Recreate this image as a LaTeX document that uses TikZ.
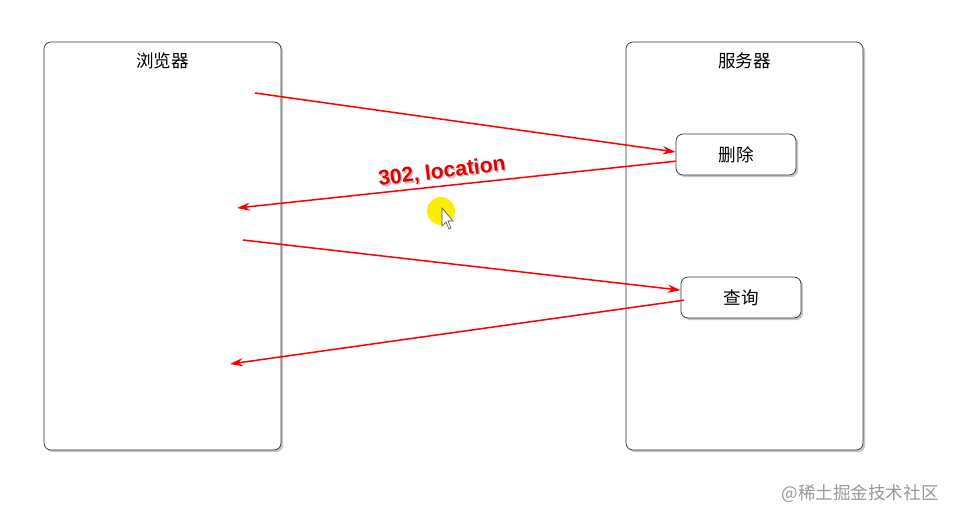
\documentclass[tikz,border=0pt]{standalone}
\usepackage{fontspec}
\setmainfont{Liberation Sans}
\newfontfamily\cjk{Noto Sans CJK SC}
\usetikzlibrary{positioning,shadows,arrows.meta}

\begin{document}
\begin{tikzpicture}[x=0.03cm,y=-0.03cm,
        side/.style={draw=black!80,line width=0.6pt,rounded corners=6pt,fill=white,
          drop shadow={shadow xshift=1.8pt,shadow yshift=-1.8pt,opacity=0.45},
          minimum width=7.11cm,minimum height=12.24cm},
        op/.style={side,minimum width=3.6cm,minimum height=1.23cm,inner sep=0pt,
          font=\cjk\fontsize{15}{17}\selectfont},
        title/.style={font=\cjk\fontsize{15}{17}\selectfont}, % box headings
        msg/.style={draw=red,line width=1.3pt,-{Stealth[length=11pt,width=7pt]}}]
        \useasboundingbox (0,0) rectangle (957,521);
        % the two sides
        \node[side] (browser) at (162.5,246) {};
        \node[side] (server) at (744.5,246) {};
        \node[title,below=0.2cm of browser.north] (browsertitle) {浏览器};
        \node[title,below=0.2cm of server.north] (servertitle) {服务器};
        % handlers on the server
        \node[op] (del) at (736,154.5) {删除};
        \node[op] (query) at (741,297.5) {查询};
        % free ends on the browser side
        \coordinate (req1) at (255,93);
        \coordinate (back1) at (237,208);
        \coordinate (req2) at (243,240);
        \coordinate (back2) at (230,364);
        \draw[msg] (req1) -- ([yshift=0.075cm]del.west);
        \draw[msg] ([yshift=-0.2cm]del.west) -- (back1);
        \draw[msg] (req2) -- ([yshift=0.22cm]query.west);
        \draw[msg] ([yshift=-0.08cm,xshift=0.1cm]query.west) -- (back2);
        % redirect label
        \node[text=black!25,rotate=7,font=\fontsize{18}{20}\selectfont\bfseries] (locshadow) at (443.5,173.5) {302, location};
        \node[text=red!90!black,rotate=7,font=\fontsize{18}{20}\selectfont\bfseries] (loc) at (442,172) {302, location};
        % mouse pointer
        \fill[yellow!95!orange] (441,211) circle (14);
        \draw[black!70,fill=white,line width=0.5pt] (442,208) -- (442,226) -- (446,222) -- (449,229)
          -- (451,228) -- (448,221) -- (453,221) -- cycle;
        \node[text=black!40,font=\cjk\fontsize{15}{17}\selectfont] (mark) at (860,494) {@稀土掘金技术社区};
    \end{tikzpicture}
\end{document}
